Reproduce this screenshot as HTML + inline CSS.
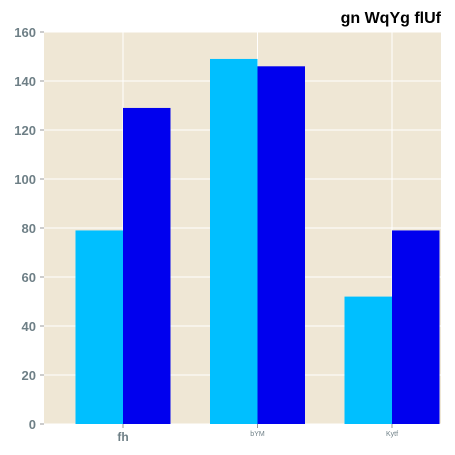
<!DOCTYPE html>
<html><head><meta charset="utf-8"><style>
body{margin:0;background:#fff;}
svg{display:block;font-family:"Liberation Sans",sans-serif;}
</style></head><body>
<svg id="c" width="455" height="455"></svg>
<script>
const categories=["fh","bYM","Kytf"];
const series1=[79,149,52];
const series2=[129,146,79];
const yTicks=[0,20,40,60,80,100,120,140,160];
const NS="http://www.w3.org/2000/svg";
const svg=document.getElementById('c');
const L=44,R=441,T=32,B=424;
function y(v){return B-(v/160)*(B-T);}
function cx(i){return 123+i*134.5;}
const bw=47.5;
function mk(t,a,p){const e=document.createElementNS(NS,t);for(const k in a)e.setAttribute(k,a[k]);(p||svg).appendChild(e);return e;}
let bg=mk('rect',{x:L,y:T,width:R-L,height:B-T,fill:'#efe7d5'});


yTicks.forEach(v=>{
  let g=mk('line',{x1:L,x2:R,y1:y(v),y2:y(v),stroke:'#fff','stroke-width':1});
  
  
  mk('line',{x1:L-4,x2:L,y1:y(v),y2:y(v),stroke:'#999'});
  let t=mk('text',{x:L-8,y:y(v)+5,'text-anchor':'end','font-size':13,'font-weight':'bold',fill:'#6e7f86'});
  t.textContent=v;
  
  
});
categories.forEach((c,i)=>{
  let g=mk('line',{x1:cx(i),x2:cx(i),y1:T,y2:B,stroke:'#fff','stroke-width':1});
  
  
});
categories.forEach((c,i)=>{
  let a=mk('rect',{x:cx(i)-bw,y:y(series1[i]),width:bw,height:B-y(series1[i]),fill:'#00bfff'});
  
  
  let b=mk('rect',{x:cx(i),y:y(series2[i]),width:bw,height:B-y(series2[i]),fill:'#0000ee'});
  
  
  mk('line',{x1:cx(i),x2:cx(i),y1:B,y2:B+4,stroke:'#999'});
  let t=mk('text',{x:cx(i),y:i==0?441:436,'text-anchor':'middle','font-size':i==0?12:7,'font-weight':i==0?'bold':'normal',fill:'#6e7f86'});
  t.textContent=c;
  
  
});
let ti=mk('text',{x:441,y:23,'text-anchor':'end','font-size':16,'font-weight':'bold',fill:'#000'});
ti.textContent="gn WqYg flUf";


</script>
</body></html>
